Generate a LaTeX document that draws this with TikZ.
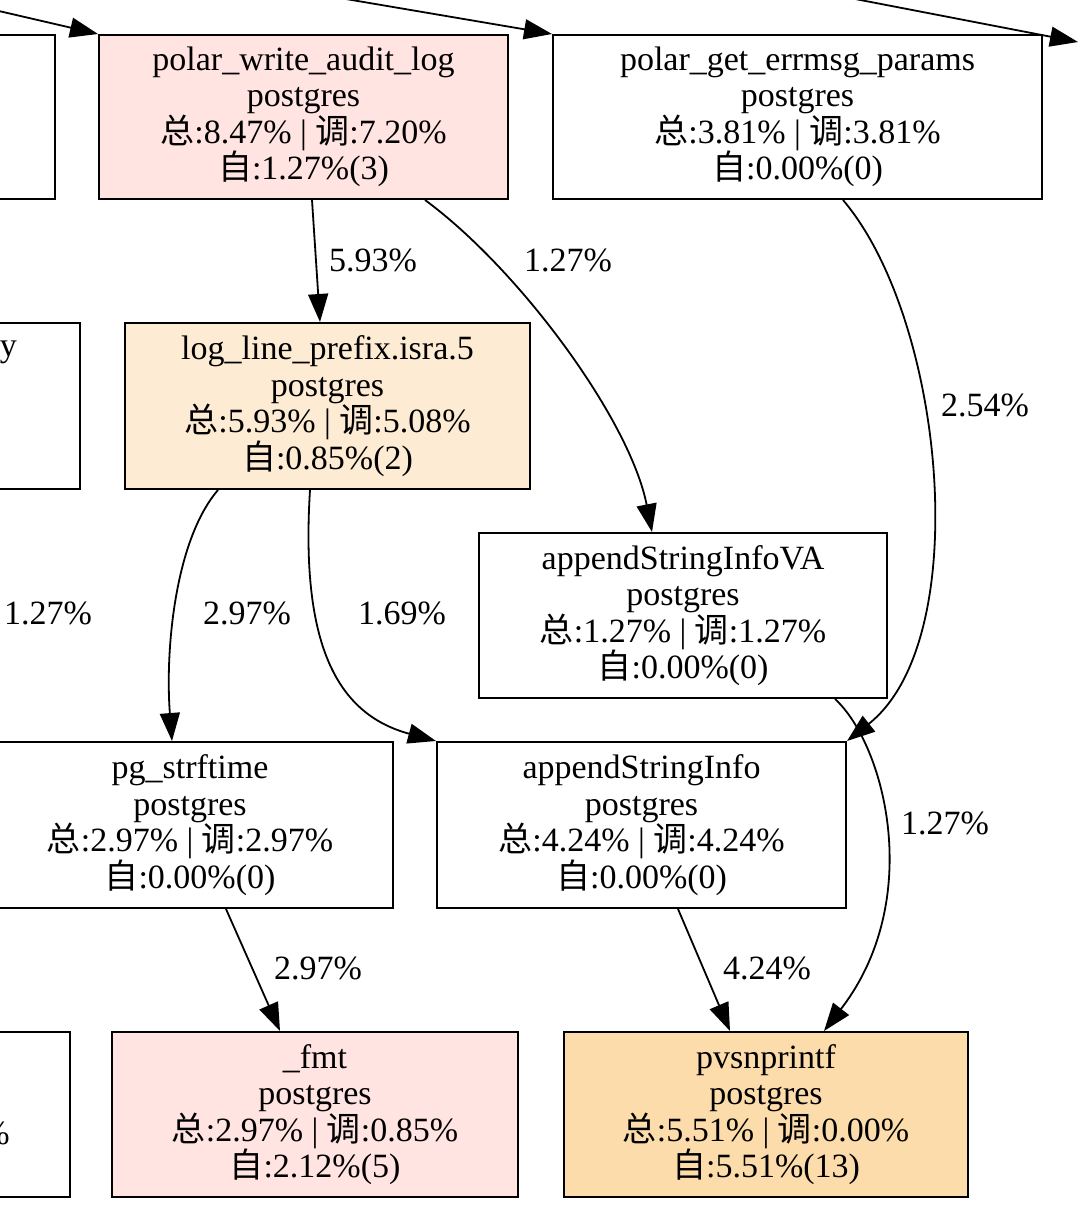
\documentclass[tikz,border=0pt]{standalone}
\usepackage{fontspec}
\setmainfont{Liberation Serif}
\newfontfamily\cjk{Noto Sans CJK SC}
\usetikzlibrary{arrows.meta,calc}
\definecolor{pinkc}{HTML}{FFE4E1}
\definecolor{peachc}{HTML}{FEEBD3}
\definecolor{navc}{HTML}{FDDCAB}
\newcommand\totline[2]{{\cjk 总}:#1\% | {\cjk 调}:#2\%}
\newcommand\selfline[2]{{\cjk 自}:#1\%(#2)}
\begin{document}
\begin{tikzpicture}[x=1pt,y=-1pt,
  fn/.style={draw=black, line width=2pt, rectangle, inner sep=0pt, align=center,
    font=\fontsize{34}{36.5}\selectfont, minimum height=165pt},
  edge/.style={line width=1.8pt, -{Triangle[length=28pt,width=20pt]}},
  lbl/.style={font=\fontsize{34}{36.5}\selectfont, inner sep=0pt}]
\useasboundingbox (0,0) rectangle (1080,1230);
\fill[white] (0,0) rectangle (1080,1230);
\clip (0,0) rectangle (1080,1230);

% partial boxes at the left edge
\node[fn, minimum width=355pt, minimum height=164pt] (lA) at (-122.5,117) {};
\node[fn, minimum width=380pt, minimum height=166pt] (lB) at (-110,406) {};
\node[fn, minimum width=370pt] (lC) at (-115,1114.5) {};
\node[lbl, anchor=east] (lBt) at (17,352) {y};
\node[lbl, anchor=east] (lCt) at (10,1133) {\%};

% main nodes
\node[fn, fill=pinkc, minimum width=409pt, minimum height=164pt] (pwal) at (303.5,117)
  {polar\_write\_audit\_log\\postgres\\\totline{8.47}{7.20}\\\selfline{1.27}{3}};
\node[fn, minimum width=489pt, minimum height=164pt] (pgep) at (797.5,117)
  {polar\_get\_errmsg\_params\\postgres\\\totline{3.81}{3.81}\\\selfline{0.00}{0}};
\node[fn, fill=peachc, minimum width=405pt, minimum height=166pt] (llp) at (327.5,406)
  {log\_line\_prefix.isra.5\\postgres\\\totline{5.93}{5.08}\\\selfline{0.85}{2}};
\node[fn, minimum width=408pt] (asiva) at (683,615.5)
  {appendStringInfoVA\\postgres\\\totline{1.27}{1.27}\\\selfline{0.00}{0}};
\node[fn, minimum width=406pt, minimum height=166pt] (pgs) at (190,825)
  {pg\_strftime\\postgres\\\totline{2.97}{2.97}\\\selfline{0.00}{0}};
\node[fn, minimum width=409pt, minimum height=166pt] (asi) at (641.5,825)
  {appendStringInfo\\postgres\\\totline{4.24}{4.24}\\\selfline{0.00}{0}};
\node[fn, fill=pinkc, minimum width=406pt] (fmt) at (315,1114.5)
  {\_fmt\\postgres\\\totline{2.97}{0.85}\\\selfline{2.12}{5}};
\node[fn, fill=navc, minimum width=404pt] (pvs) at (766,1114.5)
  {pvsnprintf\\postgres\\\totline{5.51}{0.00}\\\selfline{5.51}{13}};

% incoming / outgoing edges at the top
\coordinate (inA) at (-40,2);
\coordinate (inB) at (340,-2);
\coordinate (inC) at (850,-2);
\coordinate (outC) at (1078,42);
\draw[edge] (inA) -- (pwal.north west);
\draw[edge] (inB) -- (pgep.north west);
\draw[edge] (inC) -- (outC);

% edges
\draw[edge] ([xshift=8.5pt]pwal.south) -- ([xshift=-7.5pt]llp.north);
\draw[edge] ([xshift=121.5pt]pwal.south) .. controls (520,270) and (630,420) .. ([xshift=-31pt]asiva.north);
\draw[edge] ([xshift=45.5pt]pgep.south) .. controls (945,320) and (975,640) .. (asi.north east);
\draw[edge] ([xshift=-109.5pt]llp.south) .. controls (175,540) and (165,650) .. ([xshift=-18pt]pgs.north);
\draw[edge] ([xshift=-17.5pt]llp.south) .. controls (300,650) and (340,715) .. (asi.north west);
\draw[edge] ([xshift=152pt]asiva.south) .. controls (885,745) and (925,900) .. ([xshift=58pt]pvs.north);
\draw[edge] ([xshift=36pt]pgs.south) -- ([xshift=-35pt]fmt.north);
\draw[edge] ([xshift=36.5pt]asi.south) -- ([xshift=-36pt]pvs.north);

% edge labels
\node[lbl] (e1) at (373,260) {5.93\%};
\node[lbl] (e2) at (568,260) {1.27\%};
\node[lbl] (e3) at (985,405) {2.54\%};
\node[lbl] (e4) at (48,613) {1.27\%};
\node[lbl] (e5) at (247,613) {2.97\%};
\node[lbl] (e6) at (402,613) {1.69\%};
\node[lbl] (e7) at (945,823) {1.27\%};
\node[lbl] (e8) at (318,968) {2.97\%};
\node[lbl] (e9) at (767,968) {4.24\%};
\end{tikzpicture}
\end{document}
